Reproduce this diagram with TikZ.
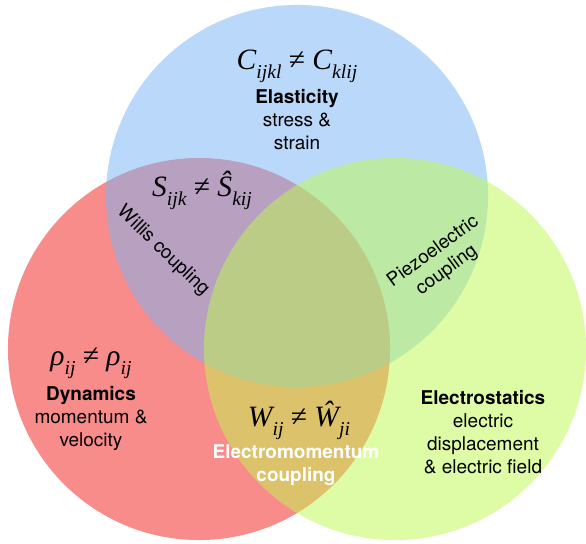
\documentclass[tikz,border=0pt]{standalone}
\usepackage{fontspec}
\setmainfont{TeX Gyre Heros}
\newfontfamily\eqfont{Liberation Serif}
\usetikzlibrary{positioning}
\definecolor{dynred}{RGB}{243,27,23}
\definecolor{elablue}{RGB}{119,181,247}
\definecolor{estgreen}{RGB}{191,249,77}
\newcommand{\lo}[1]{\raisebox{-0.3em}{\fontsize{14}{14}\selectfont #1}}
\newcommand{\neqs}{\ {\upshape ≠}\ }
\tikzset{
  field/.style={circle,draw=none,fill opacity=0.5,minimum size=9.55cm,inner sep=0pt},
  eqn/.style={font=\eqfont\itshape\fontsize{21}{24}\selectfont,anchor=base,inner sep=0pt},
  block/.style={align=center,font=\fontsize{13.5}{16.4}\selectfont,inner sep=0pt,anchor=north},
  twin/.style={align=center,font=\fontsize{13.5}{16.4}\selectfont,inner sep=0pt}
}

\begin{document}
\begin{tikzpicture}[x=0.025cm,y=-0.025cm]
  \useasboundingbox[fill=white] (0,0) rectangle (586,544);

  % the three fields
  \node[field,fill=dynred] (dynamics) at (199,349) {};
  \node[field,fill=elablue] (elasticity) at (297,196) {};
  \node[field,fill=estgreen] (electro) at (395,349) {};

  % elasticity
  \node[eqn] (ceq) at (297,70) {C\lo{ijkl}\neqs C\lo{klij}};
  \node[block] (celast) at (297,89) {\textbf{Elasticity}\\stress \&\\strain};

  % dynamics
  \node[eqn] (rhoeq) at (91,366) {ρ\lo{ij}\neqs ρ\lo{ij}};
  \node[block] (cdyn) at (91,386) {\textbf{Dynamics}\\momentum \&\\velocity};

  % electrostatics
  \node[block] (celec) at (483,390) {\textbf{Electrostatics}\\electric\\displacement\\\& electric field};

  % couplings
  \node[eqn] (seq) at (202,197) {S\lo{ijk}\neqs Ŝ\lo{kij}};
  \node[twin,rotate=-44] (willis) at (163,251) {Willis coupling};
  \node[twin,rotate=36] (piezo) at (440,261) {Piezoelectric\\coupling};
  \node[eqn] (weq) at (299,427) {W\lo{ij}\neqs Ŵ\lo{ji}};
  \node[block,text=white] (cem) at (296,444) {\textbf{Electromomentum}\\\textbf{coupling}};
\end{tikzpicture}
\end{document}
